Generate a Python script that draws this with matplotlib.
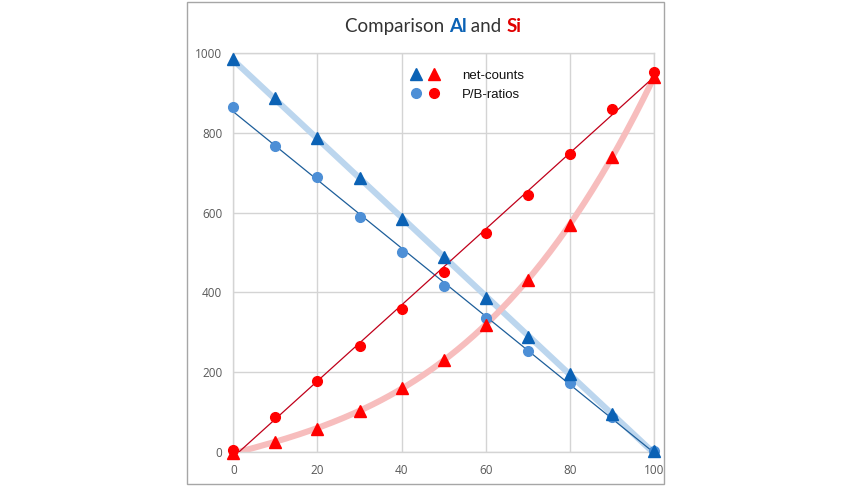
import numpy as np
import matplotlib
matplotlib.use("Agg")
import matplotlib.pyplot as plt
from matplotlib.lines import Line2D
from matplotlib.legend_handler import HandlerTuple
from matplotlib.patches import Rectangle

# ---- data ----
x = [0, 10, 20, 30, 40, 50, 60, 70, 80, 90, 100]
al_counts = [986, 887, 787, 686, 584, 488, 387, 289, 194, 95, 3]
al_pb = [864, 768, 690, 589, 500, 417, 335, 254, 172, 88, 3]
si_counts = [-3, 24, 58, 102, 160, 231, 318, 431, 569, 740, 940]
si_pb = [5, 86, 178, 266, 359, 452, 548, 644, 747, 860, 954]
xticks = [0, 20, 40, 60, 80, 100]
yticks = [0, 200, 400, 600, 800, 1000]

BLUE_TRI = "#0B62B5"
BLUE_CIR = "#4D8FD6"
BLUE_THICK = "#BCD6EE"
BLUE_THIN = "#1D5E9A"
RED = "#FF0000"
RED_THIN = "#C0001A"
RED_THICK = "#F7BDBD"
GRID = "#D4D4D4"
TXT = "#595959"

fig = plt.figure(figsize=(8.65, 4.86), dpi=100)
ax = fig.add_axes([233.3 / 865, 34.3 / 486, (654 - 233.3) / 865, (451.7 - 53.3) / 486])

xa = np.array(x, dtype=float)
xs = np.linspace(0, 100, 200)

# trend lines
p_al_c = np.polyfit(xa, al_counts, 1)
p_al_p = np.polyfit(xa, al_pb, 1)
p_si_c = np.polyfit(xa, si_counts, 3)
p_si_p = np.polyfit(xa, si_pb, 1)

ax.plot(xs, np.polyval(p_al_c, xs), color=BLUE_THICK, lw=4.4, solid_capstyle="round", zorder=2)
ax.plot(xs, np.polyval(p_si_c, xs), color=RED_THICK, lw=4.4, solid_capstyle="round", zorder=2)
ax.plot(xs, np.polyval(p_al_p, xs), color=BLUE_THIN, lw=0.9, zorder=3)
ax.plot(xs, np.polyval(p_si_p, xs), color=RED_THIN, lw=0.9, zorder=3)

ax.plot(x, al_pb, "o", color=BLUE_CIR, ms=7, zorder=4, clip_on=False)
ax.plot(x, si_pb, "o", color=RED, ms=7, zorder=4, clip_on=False)
ax.plot(x, al_counts, "^", color=BLUE_TRI, ms=9, zorder=5, clip_on=False)
ax.plot(x, si_counts, "^", color=RED, ms=9, zorder=5, clip_on=False)

ax.set_xlim(0, 100)
ax.set_ylim(0, 1000)
ax.set_xticks(xticks)
ax.set_yticks(yticks)
ax.grid(True, color=GRID, lw=1)
ax.set_axisbelow(True)
for s in ax.spines.values():
    s.set_color(GRID)
    s.set_linewidth(1)
ax.tick_params(length=0, labelsize=8.5, labelcolor=TXT)
ax.tick_params(axis="y", pad=8)
ax.tick_params(axis="x", pad=9)
for lab in ax.get_xticklabels() + ax.get_yticklabels():
    lab.set_fontfamily("Open Sans")

# legend
h_tri = (Line2D([], [], ls="", marker="^", color=BLUE_TRI, ms=9),
         Line2D([], [], ls="", marker="^", color=RED, ms=9))
h_cir = (Line2D([], [], ls="", marker="o", color=BLUE_CIR, ms=7),
         Line2D([], [], ls="", marker="o", color=RED, ms=7))
leg = ax.legend([h_tri, h_cir], ["net-counts", "P/B-ratios"],
                handler_map={tuple: HandlerTuple(ndivide=None, pad=0.25)},
                frameon=False, loc="upper left",
                bbox_to_anchor=((404 - 233.3) / (654 - 233.3), 1 - (64 - 53.3) / (451.7 - 53.3)),
                borderaxespad=0, handlelength=2.4, handletextpad=1.6, labelspacing=0.55,
                prop={"family": "Liberation Sans", "size": 9.5})
for t in leg.get_texts():
    t.set_color("#111111")

# frame
fig.patches.append(Rectangle((187 / 865, 2 / 486), (664 - 187) / 865, 482 / 486,
                             transform=fig.transFigure, fill=False, ec="#A6A6A6", lw=1))

# multi-colour title
parts = [("Comparison ", "#333333", "normal"), ("Al", "#0B62B5", "bold"),
         (" and ", "#333333", "normal"), ("Si", "#E00000", "bold")]
r = fig.canvas.get_renderer()
texts = []
for s, c, w in parts:
    t = fig.text(0, 1 - 32 / 486, s, color=c, fontweight=w, fontsize=13.5,
                 family="Lato", va="baseline", ha="left")
    texts.append(t)
widths = [t.get_window_extent(r).width for t in texts]
total = sum(widths)
x0 = 433 - total / 2
for t, wd in zip(texts, widths):
    t.set_x(x0 / 865)
    x0 += wd

fig.savefig("out.png", dpi=100, facecolor="white")
